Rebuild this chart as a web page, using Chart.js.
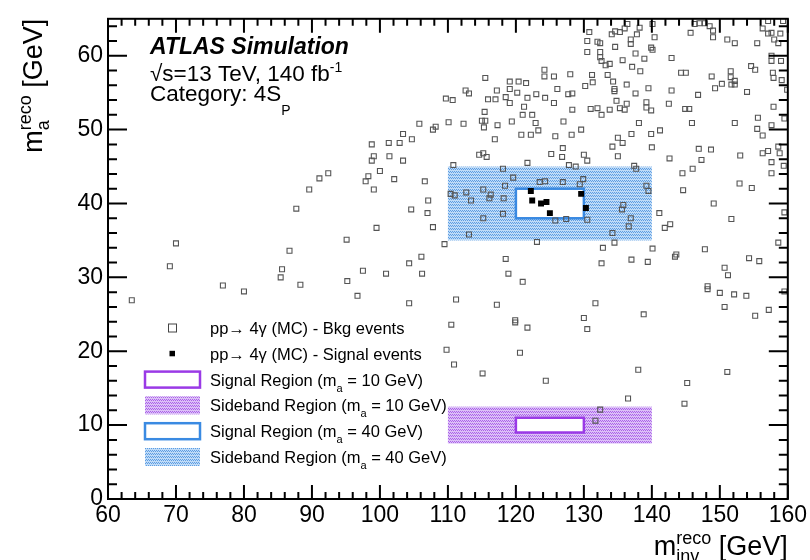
<!DOCTYPE html>
<html>
<head>
<meta charset="utf-8">
<script src="https://cdn.jsdelivr.net/npm/chart.js@4.4.1/dist/chart.umd.min.js"></script>
<style>
  body { margin: 0; background: #fff; }
  #wrap { width: 810px; height: 560px; }
</style>
</head>
<body>
<div id="wrap"><canvas id="massPlane" width="810" height="560"></canvas></div>
<script>
// background events: [m_inv, m_a] in GeV
const bkgEvents = [
  [63.5,26.9],[69.1,31.5],[70.0,34.6],[76.9,28.9],[80.0,28.1],[85.4,30.0],[85.6,31.1],[86.7,33.6],
  [87.7,39.3],[88.3,29.0],[89.6,41.9],[91.1,43.4],[92.4,44.1],
  [115.5,57.0],[112.6,55.3],[113.1,54.9],[117.2,55.3],[109.7,54.2],[110.7,54.0],[115.9,54.1],[117.0,54.1],
  [115.4,52.4],[115.0,51.2],[115.5,51.2],[115.3,50.3],[117.3,50.6],[105.8,50.8],[107.8,50.0],[108.2,50.4],
  [110.1,51.0],[112.3,50.8],[103.4,49.4],[104.7,48.7],[102.9,48.2],[101.3,48.2],[98.8,48.0],[116.9,48.7],
  [99.1,46.4],[98.8,45.8],[101.4,46.4],[103.4,45.8],[100.0,44.4],[114.6,46.6],[115.2,46.8],[115.7,46.3],
  [98.3,43.7],[97.9,43.0],[102.1,43.3],[106.6,43.0],[110.8,45.2],
  [130.8,63.2],[130.5,62.0],[132.0,61.9],[132.4,61.7],[130.5,60.5],[132.4,60.5],[132.4,59.8],[132.6,59.3],
  [133.2,58.7],[133.8,58.9],[134.1,62.9],[134.6,63.3],[135.3,63.2],[136.0,63.7],[136.4,64.3],[134.6,61.2],
  [136.9,62.2],[136.9,61.6],[137.8,62.9],[138.2,63.8],[135.7,59.4],[137.6,60.3],[138.9,59.6],[137.1,58.5],
  [138.3,57.9],[139.5,55.6],[137.6,54.9],[139.2,53.7],[139.2,53.0],[124.2,58.1],[124.2,57.2],[125.6,57.2],
  [128.0,57.5],[131.2,57.4],[131.3,56.4],[133.5,57.4],[134.3,56.5],[130.2,55.9],[136.3,56.1],[134.5,55.5],
  [134.5,55.2],[119.1,56.5],[120.4,56.5],[121.5,56.3],[119.1,55.5],[120.2,55.0],[118.5,54.4],[119.1,53.6],
  [121.7,54.3],[123.0,54.8],[124.3,54.3],[126.1,55.5],[127.7,54.8],[128.3,54.9],[125.6,53.6],[121.2,53.1],
  [121.0,52.0],[122.4,52.0],[128.3,52.7],[131.0,52.8],[132.0,52.9],[133.8,52.7],[135.3,52.9],[136.0,52.7],
  [134.8,53.9],[136.3,53.5],[132.6,52.0],[119.4,51.1],[122.9,50.9],[123.3,49.9],[127.0,51.1],[120.8,49.3],
  [122.2,49.3],[125.8,49.1],[128.2,49.3],[129.6,50.0],[138.1,50.9],[137.0,49.4],[135.0,48.9],[135.7,48.2],
  [134.2,47.7],[126.9,47.5],[125.2,46.7],[126.8,46.3],[130.0,46.6],[130.5,45.8],[135.0,46.4],[121.7,45.5],
  [127.8,45.2],[128.8,45.0],[137.4,45.1],[137.7,44.7],[118.1,44.7],[119.6,43.5],[123.5,42.9],[124.3,43.0],
  [126.9,42.9],[129.9,43.3],[129.4,42.6],
  [140.1,64.3],[146.3,64.3],[147.0,64.4],[147.8,64.4],[148.5,64.0],[149.0,63.4],[149.0,62.5],[140.4,62.5],
  [145.7,63.1],[151.1,62.2],[152.2,61.7],[155.5,61.7],[156.3,63.7],[157.1,64.7],[157.1,63.0],[157.6,63.1],
  [158.0,62.2],[158.9,63.0],[158.6,61.7],[159.3,64.7],[139.9,61.1],[140.1,60.8],[142.9,59.7],[144.3,57.7],
  [145.0,57.7],[148.8,57.2],[151.6,57.9],[151.6,57.1],[152.2,56.6],[151.7,56.1],[152.2,56.1],[150.3,56.2],
  [149.3,55.6],[154.6,58.6],[155.2,58.1],[154.0,55.1],[157.6,60.0],[157.6,59.3],[159.0,59.3],[157.8,57.7],
  [157.9,57.0],[159.1,56.7],[142.9,55.3],[146.8,54.7],[142.5,53.5],[139.9,52.6],[144.9,52.8],[145.5,52.8],
  [145.9,50.9],[152.2,50.9],[155.6,51.6],[155.5,50.1],[156.3,49.2],[157.6,50.6],[157.9,53.1],[159.5,51.5],
  [141.2,49.9],[139.9,49.4],[140.0,47.6],[146.9,47.4],[148.7,47.3],[142.6,46.1],[147.3,45.9],[146.0,44.7],
  [144.5,44.1],[153.0,46.5],[156.3,46.8],[157.1,47.1],[158.6,47.7],[158.8,46.8],[157.6,45.6],[159.4,45.1],
  [157.6,44.1],[159.9,55.4],
  [99.1,41.9],[107.1,40.4],[104.6,39.2],[107.0,38.7],[99.5,36.7],[107.8,36.8],[95.1,35.1],[109.5,34.5],
  [106.1,32.8],[104.3,31.9],[97.5,30.9],[100.9,30.5],[106.2,30.5],[95.2,29.5],[96.7,27.5],[104.3,26.5],
  [111.2,27.0],[117.2,26.3],[110.4,41.3],[111.0,41.1],[112.7,41.5],[113.4,40.4],[115.2,41.9],[116.3,41.2],
  [116.1,40.7],[115.2,38.0],[113.1,35.8],
  [118.4,42.4],[118.2,40.7],[118.1,38.6],[125.8,37.7],[127.4,37.9],[130.5,37.8],[139.2,42.4],[139.5,41.7],
  [135.8,39.8],[135.6,39.2],[136.9,38.0],[136.6,36.9],[134.2,36.0],[123.1,34.8],[134.5,34.7],[132.8,34.0],
  [118.5,32.5],[137.0,32.4],[139.4,32.1],[132.6,31.9],[118.9,30.5],[121.0,29.4],[131.7,26.5],[130.0,24.5],
  [138.8,25.0],[119.9,24.2],
  [140.1,33.9],[141.1,38.7],[143.6,33.1],[143.4,32.8],[147.8,33.8],[150.7,31.3],[151.2,30.3],[154.3,32.6],
  [155.8,32.2],[158.6,34.7],[159.5,38.8],[159.5,28.1],[144.6,41.8],[149.1,40.0],[151.7,37.9],[152.9,42.7],
  [154.7,42.1],[141.9,36.7],[142.7,37.2],[148.2,28.8],[148.2,28.4],[150.0,27.9],[152.1,27.7],[153.9,27.5],
  [150.7,26.0],[155.2,24.8],[157.2,25.6],
  [110.5,23.6],[119.9,23.9],[121.7,23.2],[130.5,23.0],[109.8,20.2],[120.6,19.8],[110.9,18.2],[115.1,17.0],
  [124.4,16.0],[138.0,17.5],[145.2,15.7],[151.1,17.2],[136.5,13.6],[144.8,12.9],[132.4,12.1],[131.7,10.6]
];

// signal events for m_a = 40 GeV
const sigEvents = [
  [122.2,41.7],[122.4,40.4],[123.7,40.0],[124.5,40.2],[125.0,38.7],[129.6,41.3],[130.3,39.4]
];

// signal / sideband windows, one entry per m_a hypothesis (10 and 40 GeV)
const srMinv = [120, 130];
const sbMinv = [110, 140];
const srLow = [9, 38];
const srHigh = [11, 42];
const sbLow = [7.5, 35];
const sbHigh = [12.5, 45];

const legendLabels = [
  [['pp\u2192 4\u03b3 (MC) - Bkg events']],
  [['pp\u2192 4\u03b3 (MC) - Signal events']],
  [['Signal Region (m'], ['a', 'sub'], [' = 10 GeV)']],
  [['Sideband Region (m'], ['a', 'sub'], [' = 10 GeV)']],
  [['Signal Region (m'], ['a', 'sub'], [' = 40 GeV)']],
  [['Sideband Region (m'], ['a', 'sub'], [' = 40 GeV)']]
];

const FONT = '"Liberation Sans", Arial, Helvetica, sans-serif';
const regionLine = ['#9a3ae6', '#3a8ae2'];
const regionBase = ['#dcc0f6', '#c0dbf6'];
const regionDot = ['#aa62ea', '#5c9de4'];

function hatch(ctx, base, dot) {
  const c = document.createElement('canvas');
  c.width = 4; c.height = 3;
  const g = c.getContext('2d');
  g.fillStyle = base;
  g.fillRect(0, 0, 4, 3);
  g.fillStyle = dot;
  g.fillRect(0, 0, 1, 1); g.fillRect(2, 0, 1, 1);
  g.fillRect(1, 1, 1, 1); g.fillRect(3, 1, 1, 1);
  return ctx.createPattern(c, 'repeat');
}

// text with sub/superscripts; a part with keep=true shares its x with the next part
function drawParts(ctx, x, y, parts, align) {
  const font = p => `${p.style || ''} ${p.size}px ${FONT}`;
  const offs = [];
  let cur = 0, held = 0;
  parts.forEach(p => {
    ctx.font = font(p);
    const w = ctx.measureText(p.t).width;
    offs.push(cur);
    if (p.keep) held = Math.max(held, w);
    else { cur += Math.max(held, w); held = 0; }
  });
  const start = align === 'right' ? x - cur : x;
  ctx.textAlign = 'left';
  ctx.textBaseline = 'alphabetic';
  parts.forEach((p, i) => {
    ctx.font = font(p);
    ctx.fillText(p.t, start + offs[i], y + (p.dy || 0));
  });
}

const regionsPlugin = {
  id: 'regions',
  beforeDatasetsDraw(chart) {
    const { ctx, scales: { x, y } } = chart;
    ctx.save();
    srMinv.forEach((_, i) => {
      const sx0 = x.getPixelForValue(sbMinv[0]), sx1 = x.getPixelForValue(sbMinv[1]);
      const sy0 = y.getPixelForValue(sbHigh[i]), sy1 = y.getPixelForValue(sbLow[i]);
      ctx.fillStyle = hatch(ctx, regionBase[i], regionDot[i]);
      ctx.fillRect(sx0, sy0, sx1 - sx0, sy1 - sy0);

      const rx0 = x.getPixelForValue(srMinv[0]), rx1 = x.getPixelForValue(srMinv[1]);
      const ry0 = y.getPixelForValue(srHigh[i]), ry1 = y.getPixelForValue(srLow[i]);
      ctx.fillStyle = '#fff';
      ctx.fillRect(rx0, ry0, rx1 - rx0, ry1 - ry0);
      ctx.strokeStyle = regionLine[i];
      ctx.lineWidth = 2.5;
      ctx.strokeRect(rx0, ry0, rx1 - rx0, ry1 - ry0);
    });
    ctx.restore();
  }
};

const framePlugin = {
  id: 'frame',
  afterDraw(chart) {
    const { ctx, chartArea: a, scales: { x, y } } = chart;
    ctx.save();
    ctx.strokeStyle = '#000';
    ctx.lineWidth = 2;
    ctx.strokeRect(a.left, a.top, a.right - a.left, a.bottom - a.top);
    ctx.beginPath();
    for (let v = x.min; v <= x.max; v += 2) {
      const px = x.getPixelForValue(v);
      const len = v % 10 === 0 ? 14 : 7;
      ctx.moveTo(px, a.bottom); ctx.lineTo(px, a.bottom - len);
      ctx.moveTo(px, a.top); ctx.lineTo(px, a.top + len);
    }
    for (let v = y.min; v <= y.max; v += 2) {
      const py = y.getPixelForValue(v);
      const len = v % 10 === 0 ? 19 : 9;
      ctx.moveTo(a.left, py); ctx.lineTo(a.left + len, py);
      ctx.moveTo(a.right, py); ctx.lineTo(a.right - len, py);
    }
    ctx.stroke();

    ctx.fillStyle = '#000';
    // axis titles
    drawParts(ctx, a.right, 555, [
      { t: 'm', size: 27 },
      { t: 'reco', size: 18, dy: -11, keep: true },
      { t: 'inv', size: 18, dy: 7 },
      { t: ' [GeV]', size: 27 }
    ], 'right');
    ctx.save();
    ctx.translate(42, a.top);
    ctx.rotate(-Math.PI / 2);
    drawParts(ctx, 0, 0, [
      { t: 'm', size: 27 },
      { t: 'reco', size: 18, dy: -11, keep: true },
      { t: 'a', size: 18, dy: 7 },
      { t: ' [GeV]', size: 27 }
    ], 'right');
    ctx.restore();

    // labels
    drawParts(ctx, 150, 54, [{ t: 'ATLAS Simulation', size: 23, style: 'italic bold' }]);
    drawParts(ctx, 150, 81, [
      { t: '\u221as=13 TeV, 140 fb', size: 22.5 },
      { t: '-1', size: 14, dy: -9 }
    ]);
    drawParts(ctx, 150, 101, [
      { t: 'Category: 4S', size: 22.5 },
      { t: 'P', size: 14, dy: 14 }
    ]);

    // legend
    const lx = 145, lw = 55, tx = 210;
    legendLabels.forEach((label, i) => {
      const cy = 328 + i * 25.8;
      if (i === 0) {
        ctx.strokeStyle = '#444';
        ctx.lineWidth = 1;
        ctx.strokeRect(lx + lw / 2 - 4, cy - 4, 8, 8);
      } else if (i === 1) {
        ctx.fillStyle = '#000';
        ctx.fillRect(lx + lw / 2 - 3, cy - 3, 5.5, 5.5);
      } else {
        const k = i < 4 ? 0 : 1;
        if (i % 2 === 0) {
          ctx.fillStyle = '#fff';
          ctx.fillRect(lx, cy - 8, lw, 16);
          ctx.strokeStyle = regionLine[k];
          ctx.lineWidth = 2.5;
          ctx.strokeRect(lx, cy - 8, lw, 16);
        } else {
          ctx.fillStyle = hatch(ctx, regionBase[k], regionDot[k]);
          ctx.fillRect(lx, cy - 9, lw, 18);
        }
      }
      ctx.fillStyle = '#000';
      drawParts(ctx, tx, cy + 6, label.map(([t, kind]) =>
        kind === 'sub' ? { t, size: 11, dy: 6 } : { t, size: 16.5 }));
    });
    ctx.restore();
  }
};

const toXY = ([x, y]) => ({ x, y });

new Chart(document.getElementById('massPlane'), {
  type: 'scatter',
  data: {
    datasets: [
      {
        label: 'Signal events',
        data: sigEvents.map(toXY),
        pointStyle: 'rect',
        pointRadius: 4.2,
        backgroundColor: '#000',
        borderColor: '#000',
        borderWidth: 0
      },
      {
        label: 'Bkg events',
        data: bkgEvents.map(toXY),
        pointStyle: 'rect',
        pointRadius: 3.5,
        backgroundColor: 'rgba(0,0,0,0)',
        borderColor: '#555',
        borderWidth: 1.1
      }
    ]
  },
  options: {
    responsive: false,
    animation: false,
    events: [],
    layout: { padding: { top: 14, right: 22, left: 0, bottom: 0 } },
    plugins: { legend: { display: false }, tooltip: { enabled: false } },
    scales: {
      x: {
        type: 'linear',
        min: 60, max: 160,
        grid: { display: false, drawTicks: false },
        border: { display: false },
        afterFit: s => { s.height = 61; },
        ticks: {
          stepSize: 10, includeBounds: false, autoSkip: false, maxRotation: 0,
          padding: 3, color: '#000', font: { family: FONT, size: 23 }
        }
      },
      y: {
        type: 'linear',
        min: 0, max: 65,
        grid: { display: false, drawTicks: false },
        border: { display: false },
        afterFit: s => { s.width = 108; },
        ticks: {
          stepSize: 10, includeBounds: false, autoSkip: false,
          padding: 5, color: '#000', font: { family: FONT, size: 23 },
          callback: v => (v % 10 === 0 ? v : '')
        }
      }
    }
  },
  plugins: [regionsPlugin, framePlugin]
});
</script>
</body>
</html>
